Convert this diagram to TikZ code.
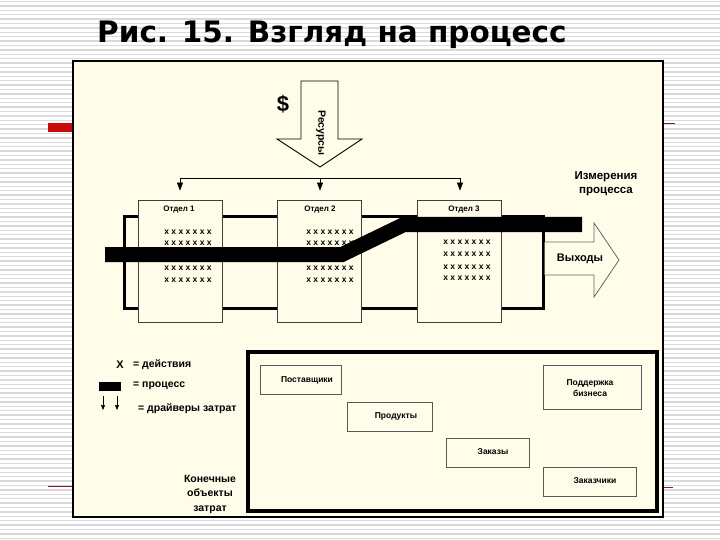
\documentclass[tikz,border=0pt]{standalone}
\usepackage{fontspec}
\setmainfont{Liberation Sans}
\newfontfamily\titlefont{DejaVu Sans}
\usetikzlibrary{arrows.meta}
\definecolor{cream}{RGB}{255,253,233}
\definecolor{stripe}{RGB}{218,218,218}
\definecolor{slidered}{RGB}{200,10,10}
\definecolor{darkred}{RGB}{130,30,40}
\begin{document}
\begin{tikzpicture}[x=1pt,y=-1pt,
  dept/.style={draw=black!75, line width=0.8pt, fill=cream, minimum width=84pt, minimum height=122pt, inner sep=0pt},
  hdr/.style={font=\bfseries\fontsize{8}{9}\selectfont},
  xrow/.style={font=\bfseries\fontsize{8.5}{9}\selectfont, inner sep=0pt},
  lbl/.style={font=\bfseries\fontsize{11.5}{14}\selectfont, align=center, inner sep=0pt},
  leg/.style={font=\bfseries\fontsize{10.5}{12}\selectfont, anchor=west, inner sep=0pt},
  obox/.style={draw=black!65, line width=0.9pt, fill=cream, inner sep=0pt},
  otext/.style={font=\bfseries\fontsize{8.5}{11}\selectfont, align=center, inner sep=0pt},
  darr/.style={-{Triangle[length=8pt,width=6pt]}, line width=0.6pt},
  sarr/.style={-{Triangle[length=5pt,width=4pt]}, line width=0.6pt}
]
\useasboundingbox (0,0) rectangle (720,540);
% background stripes
\fill[white] (0,0) rectangle (720,540);
\foreach \yy in {1.5,5.9,...,540} \draw[stripe, line width=1.3pt] (0,\yy) -- (720,\yy);
% slide decorations
\fill[slidered] (48,123) rectangle (74,132);
\draw[darkred, line width=0.9pt] (48,486) -- (74,486);
\draw[darkred, line width=0.9pt] (663,123) -- (675,123);
\draw[darkred, line width=0.9pt] (663,487) -- (673,487);
% title
\node[anchor=base west, inner sep=0pt, font=\titlefont\bfseries\fontsize{29.5}{32}\selectfont] (title) at (97,43) {Рис. 15. Взгляд на процесс};
% panel
\draw[line width=1.6pt, fill=cream] (73,61) rectangle (663,517);
% resource arrow
\draw[line width=0.9pt, fill=cream] (301,81) -- (338,81) -- (338,139) -- (362,139) -- (320,167) -- (277,139) -- (301,139) -- cycle;
\node[font=\bfseries\fontsize{10.5}{12}\selectfont, rotate=-90, inner sep=0pt] (res) at (321,133) {Ресурсы};
\node[font=\bfseries\fontsize{22}{24}\selectfont, inner sep=0pt] (dollar) at (283,104) {\$};
% process frame
\draw[line width=3pt] (124,217) rectangle (543,308);
% output arrow
\fill[cream] (544.6,242) -- (594,242) -- (594,223) -- (619,260) -- (594,297) -- (594,275) -- (544.6,275) -- cycle;
\draw[black!60, line width=0.8pt] (544.6,242) -- (594,242) -- (594,223) -- (619,260) -- (594,297) -- (594,275) -- (544.6,275);
\node[font=\bfseries\fontsize{11}{12}\selectfont, inner sep=0pt] (out) at (580,259) {Выходы};
% departments
\node[dept] (d1) at (180,261) {};
\node[dept] (d2) at (319.5,261) {};
\node[dept] (d3) at (459,261) {};
\node[hdr] (h1) at (179,210) {Отдел 1};
\node[hdr] (h2) at (320,210) {Отдел 2};
\node[hdr] (h3) at (464,210) {Отдел 3};
\foreach \yy [count=\i] in {232,243,268,280} {
  \node[xrow] (xa\i) at (188,\yy) {x x x x x x x};
  \node[xrow] (xb\i) at (330,\yy) {x x x x x x x};
}
\foreach \yy [count=\i] in {242,254,267,278} {
  \node[xrow] (xc\i) at (467,\yy) {x x x x x x x};
}
% distribution
\coordinate (dl) at (180,178);
\coordinate (dm) at (320,178);
\coordinate (dr) at (460,178);
\draw[line width=0.6pt] (dl) -- (dr);
\draw[darr] (dl) -- ([yshift=9pt]d1.north);
\draw[darr] (dm) -- ([yshift=9pt,xshift=0.5pt]d2.north);
\draw[darr] (dr) -- ([yshift=9pt,xshift=1pt]d3.north);
% process band
\draw[line width=15pt, miter limit=10] (105,254.5) -- (342,254.5) -- (404,224.5) -- (582,224.5);
\node[lbl] (meas) at (606,184) {Измерения\\процесса};
% legend
\node[font=\bfseries\fontsize{11}{12}\selectfont, inner sep=0pt] (lx) at (120,365) {X};
\node[leg] (lxt) at (133,365) {= действия};
\fill (99,382) rectangle (121,391);
\node[leg] (lpt) at (133,386) {= процесс};
\draw[sarr] (103,396) -- (103,410);
\draw[sarr] (117,396) -- (117,410);
\node[leg] (ldt) at (138,409) {= драйверы затрат};
\node[font=\bfseries\fontsize{10.5}{14.5}\selectfont, align=center, inner sep=0pt] (fin) at (210,494) {Конечные\\объекты\\затрат};
% cost objects
\draw[line width=3.5pt] (248,352) rectangle (657,511);
\node[obox, minimum width=81pt, minimum height=29pt] (b1) at (300.5,379.5) {};
\node[otext] (t1) at (307,380) {Поставщики};
\node[obox, minimum width=85pt, minimum height=29pt] (b2) at (389.5,416.5) {};
\node[otext] (t2) at (396,416) {Продукты};
\node[obox, minimum width=83pt, minimum height=29pt] (b3) at (487.5,452.5) {};
\node[otext] (t3) at (493,452) {Заказы};
\node[obox, minimum width=98pt, minimum height=44pt] (b4) at (592,387) {};
\node[otext] (t4) at (590,388) {Поддержка\\бизнеса};
\node[obox, minimum width=93pt, minimum height=29pt] (b5) at (589.5,481.5) {};
\node[otext] (t5) at (595,481) {Заказчики};
\end{tikzpicture}
\end{document}
